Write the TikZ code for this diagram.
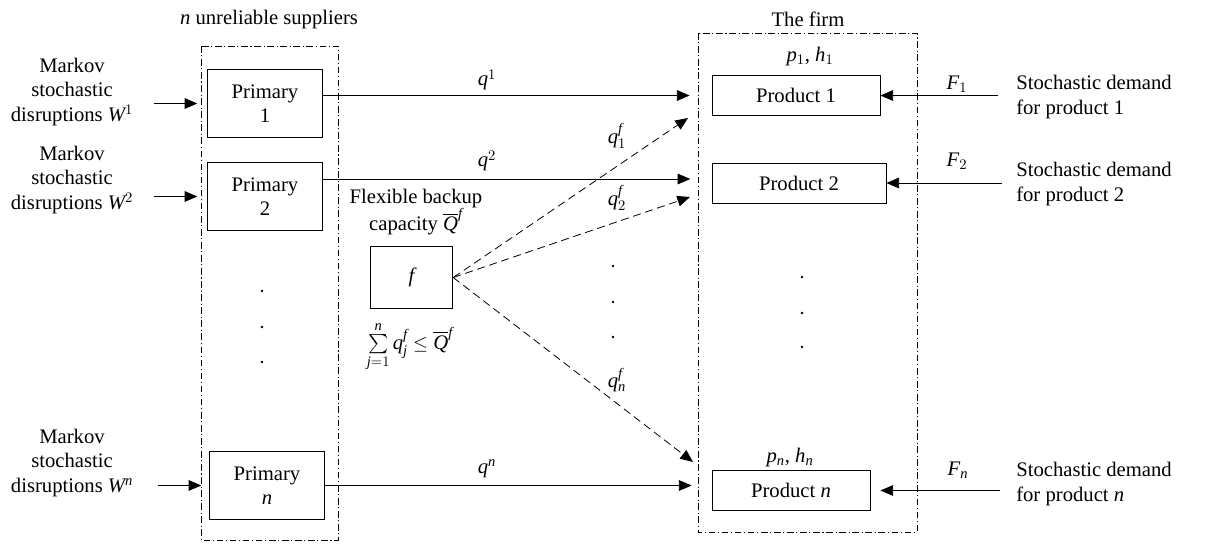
\documentclass[tikz,border=0pt]{standalone}
\usepackage{exscale}
\usepackage{fontspec}
\setmainfont{Liberation Serif}
\DeclareSymbolFont{letters}{TU}{\rmdefault}{m}{it}
\usetikzlibrary{arrows.meta}

\tikzset{
  supbox/.style={draw, line width=0.6pt, minimum width=86pt, minimum height=51pt, align=center, inner sep=0.75pt},
  prodbox/.style={draw, line width=0.6pt, minimum height=30pt, inner sep=0.75pt},
  frame/.style={line width=0.6pt, dash pattern=on 5pt off 2pt on 0.8pt off 2pt},
  flow/.style={-{Triangle[length=9.5pt,width=8pt]}, line width=0.6pt},
  backup/.style={flow, dash pattern=on 6pt off 3.5pt},
  lbl/.style={inner sep=0.75pt, align=center},
}

\begin{document}
\begin{tikzpicture}[x=0.75pt,y=0.75pt,yscale=-1,xscale=1,font=\fontsize{15.5}{18.5}\selectfont]
\useasboundingbox (0,0) rectangle (1208,544);

%Shape: Frames
\draw [frame] (201,46) rectangle (338,540);
\draw [frame] (698,33) rectangle (917,532);

% Text Node
\node [lbl] (suptitle) at (269,20) {$n$ unreliable suppliers};
\node [lbl] (firmtitle) at (808,19) {The firm};

%Shape: Primary suppliers
\node [supbox] (pr1) at (265,103.5) {Primary\\1};
\node [supbox] (pr2) at (265,196.5) {Primary\\2};
\node [supbox] (prn) at (267,485.5) {Primary\\$n$};

%Shape: Backup supplier
\node [draw, line width=0.6pt, minimum width=62pt, minimum height=47pt] (fb) at (411.5,277.5) {$f$};

%Shape: Products
\node [prodbox, minimum width=126pt] (prod1) at (796,95.5) {Product 1};
\node [prodbox, minimum width=130.5pt] (prod2) at (799,183) {Product 2};
\node [prodbox, minimum width=118.5pt] (prodn) at (791,490.5) {Product $n$};

% Text Node
\node [lbl] (mk1) at (72,92) {Markov\\stochastic\\disruptions $W^1$};
\node [lbl] (mk2) at (72,180) {Markov\\stochastic\\disruptions $W^2$};
\node [lbl] (mkn) at (72,463) {Markov\\stochastic\\disruptions $W^n$};

% Text Node
\node [lbl, anchor=west, align=left] (dem1) at (1015,97) {Stochastic demand\\for product 1};
\node [lbl, anchor=west, align=left] (dem2) at (1015,184) {Stochastic demand\\for product 2};
\node [lbl, anchor=west, align=left] (demn) at (1015,484) {Stochastic demand\\for product $n$};

% Text Node
\node [lbl] (ph1) at (810,57) {$p_1$, $h_1$};
\node [lbl] (phn) at (790,458) {$p_n$, $h_n$};
\node [lbl] (flex) at (416,212) {Flexible backup\\capacity $\overline{Q}^f$};
\node [lbl] (cap) at (410,347) {$\sum\limits_{j=1}^{n} q^f_j \le \overline{Q}^f$};

% Text Node
\node [lbl] (lq1) at (487,80) {$q^1$};
\node [lbl] (lq2) at (487,161) {$q^2$};
\node [lbl] (lqn) at (487,469) {$q^n$};
\node [lbl] (lqf1) at (617,136) {$q^f_1$};
\node [lbl] (lqf2) at (617,198) {$q^f_2$};
\node [lbl] (lqfn) at (617,380) {$q^f_n$};
\node [lbl] (lF1) at (957,84) {$F_1$};
\node [lbl] (lF2) at (957,161) {$F_2$};
\node [lbl] (lFn) at (958,470) {$F_n$};

%Shape: Dots
\foreach \px/\py in {262/291,262/327,262/362,613/266,613/302,613/337,802/277,802/313,802/347}
  \fill (\px,\py) circle (1.3);

% disruptions
\draw [flow, shorten <=15pt, shorten >=7.5pt] (mk1.east |- pr1) -- (pr1.west);
\draw [flow, shorten <=15pt, shorten >=7.5pt] (mk2.east |- pr2) -- (pr2.west);
\draw [flow, shorten <=18pt, shorten >=6pt] (mkn.east |- prn) -- (prn.west);

% regular orders
\draw [flow, shorten >=16.5pt] (pr1.east |- prod1) -- (prod1.west);
\draw [flow, shorten >=16pt] ([yshift=-3pt]pr2.east |- prod2) -- ([yshift=-3pt]prod2.west);
\draw [flow, shorten >=15pt] (prn.east) -- (prn.east -| prodn.west);

% backup orders
\coordinate (t1) at (688,118);
\coordinate (t2) at (690,197);
\coordinate (tn) at (693,462);
\draw [backup] (fb.east) -- (t1);
\draw [backup] (fb.east) -- (t2);
\draw [backup] (fb.east) -- (tn);

% demand
\draw [flow, shorten <=13pt] (dem1.west |- prod1) -- (prod1.east);
\draw [flow, shorten <=10pt] (dem2.west |- prod2) -- (prod2.east);
\draw [flow, shorten <=11pt, shorten >=7.5pt] (demn.west |- prodn) -- (prodn.east);

\end{tikzpicture}
\end{document}
